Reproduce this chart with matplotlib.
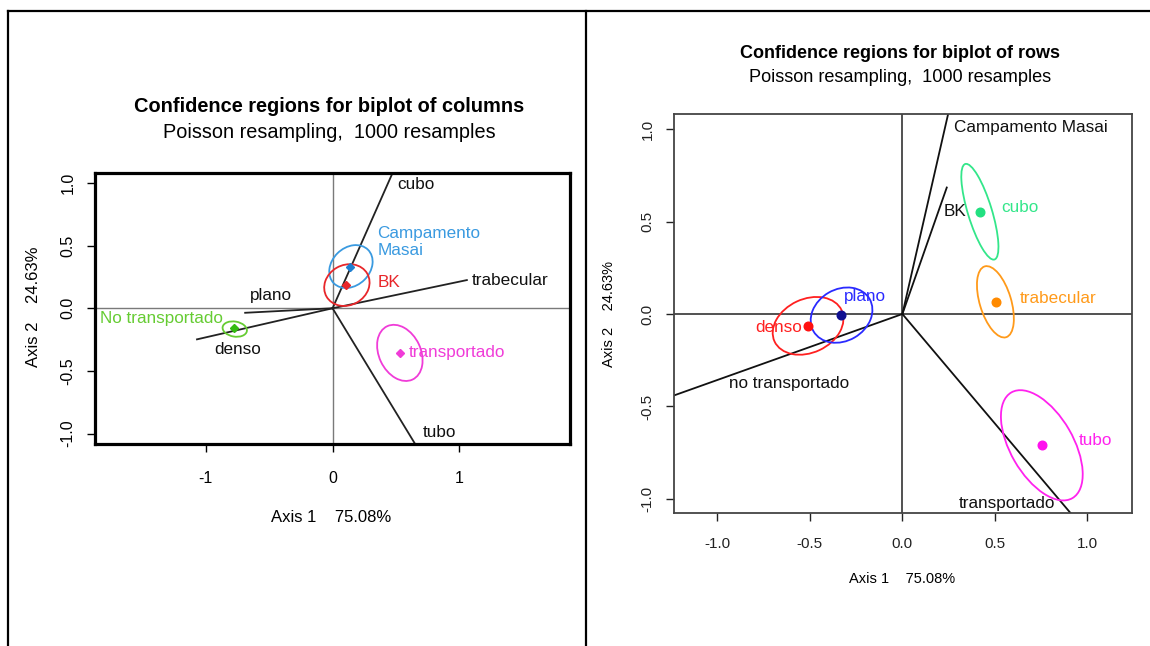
import matplotlib
matplotlib.use('Agg')
import matplotlib.pyplot as plt
from matplotlib.patches import Ellipse
from matplotlib.lines import Line2D

# ================= DATA =================
# Left panel: biplot of columns
L_vec_names = ['cubo', 'trabecular', 'tubo', 'plano', 'denso']
L_vec_x = [0.50, 1.06, 0.68, -0.69, -1.07]
L_vec_y = [1.14, 0.225, -1.13, -0.036, -0.248]

L_pt_names = ['Campamento\nMasai', 'BK', 'No transportado', 'transportado']
L_pt_x = [0.137, 0.107, -0.777, 0.531]
L_pt_y = [0.330, 0.186, -0.157, -0.356]
L_ell_cx = [0.145, 0.113, -0.772, 0.531]
L_ell_cy = [0.333, 0.185, -0.166, -0.356]
L_ell_a = [0.19, 0.185, 0.097, 0.235]
L_ell_b = [0.15, 0.16, 0.06, 0.165]
L_ell_ang = [45, 30, -10, -65]

L_xticks = [-1, 0, 1]
L_yticks = [-1.0, -0.5, 0.0, 0.5, 1.0]

# Right panel: biplot of rows
R_vec_names = ['Campamento Masai', 'BK', 'no transportado', 'transportado']
R_vec_x = [0.263, 0.24, -1.30, 0.9715]
R_vec_y = [1.15, 0.684, -0.4635, -1.15]

R_pt_names = ['denso', 'plano', 'cubo', 'trabecular', 'tubo']
R_pt_x = [-0.509, -0.331, 0.421, 0.504, 0.756]
R_pt_y = [-0.063, -0.007, 0.55, 0.066, -0.708]
R_ell_cx = [-0.51, -0.329, 0.419, 0.503, 0.754]
R_ell_cy = [-0.064, -0.006, 0.553, 0.066, -0.71]
R_ell_a = [0.20, 0.175, 0.27, 0.20, 0.33]
R_ell_b = [0.145, 0.14, 0.065, 0.085, 0.17]
R_ell_ang = [25, 30, 107, 106.8, 120]

R_xticks = [-1.0, -0.5, 0.0, 0.5, 1.0]
R_yticks = [-1.0, -0.5, 0.0, 0.5, 1.0]

title_L = 'Confidence regions for biplot of columns'
title_R = 'Confidence regions for biplot of rows'
subtitle = 'Poisson resampling,  1000 resamples'
xlab = 'Axis 1    75.08%'
ylab = 'Axis 2    24.63%'

# ================= STYLE / LAYOUT =================
W, H, DPI = 1150, 646, 100
plt.rcParams['font.family'] = ['Liberation Sans', 'DejaVu Sans']

L_colors = ['#3a9ae0', '#e8262a', '#66cc33', '#f03cd8']
L_ptcolors = ['#1f7fd0', '#e8262a', '#33bb11', '#f03cd8']
R_colors = ['#ff2020', '#2a2aff', '#33e68a', '#ff9a1a', '#ff22ee']
R_ptcolors = ['#ff1010', '#101090', '#22e080', '#ff8a00', '#ff11ee']

L_lbl = {
    'cubo': (0.51, 0.99, 'left'),
    'trabecular': (1.096, 0.225, 'left'),
    'tubo': (0.71, -0.99, 'left'),
    'plano': (-0.49, 0.105, 'center'),
    'denso': (-0.753, -0.33, 'center'),
    'Campamento\nMasai': (0.352, 0.53, 'left'),
    'BK': (0.352, 0.206, 'left'),
    'No transportado': (-0.866, -0.085, 'right'),
    'transportado': (0.60, -0.356, 'left'),
}
R_lbl = {
    'Campamento Masai': (0.279, 1.007, 'left'),
    'BK': (0.221, 0.553, 'left'),
    'no transportado': (-0.613, -0.374, 'center'),
    'transportado': (0.565, -1.024, 'center'),
    'denso': (-0.545, -0.074, 'right'),
    'plano': (-0.316, 0.097, 'left'),
    'cubo': (0.533, 0.577, 'left'),
    'trabecular': (0.635, 0.085, 'left'),
    'tubo': (0.956, -0.685, 'left'),
}


def px_axes(fig, l, r, t, b):
    return fig.add_axes([l / W, (H - b) / H, (r - l) / W, (b - t) / H])


fig = plt.figure(figsize=(W / DPI, H / DPI), dpi=DPI)
fig.patch.set_facecolor('white')

# outer table frame
for (x0, y0, x1, y1) in [(8, 11, 1150, 11), (8, 11, 8, 646), (586, 11, 586, 646)]:
    fig.add_artist(Line2D([x0 / W, x1 / W], [1 - y0 / H, 1 - y1 / H],
                          transform=fig.transFigure, color='black', lw=1.6))

# ---------- Left panel ----------
axL = px_axes(fig, 95, 569.5, 173.3, 444)
axL.set_xlim(-1.875, 1.87)
axL.set_ylim(-1.083, 1.077)
axL.axhline(0, color='#7a7a7a', lw=1.0, zorder=1)
axL.axvline(0, color='#7a7a7a', lw=1.0, zorder=1)
for n, x, y in zip(L_vec_names, L_vec_x, L_vec_y):
    axL.plot([0, x], [0, y], color='#222222', lw=1.3, zorder=2)
    lx, ly, ha = L_lbl[n]
    axL.text(lx, ly, n, ha=ha, va='center', fontsize=12.3, color='#111111', zorder=5)
for i, n in enumerate(L_pt_names):
    axL.add_patch(Ellipse((L_ell_cx[i], L_ell_cy[i]), 2 * L_ell_a[i], 2 * L_ell_b[i],
                          angle=L_ell_ang[i], fill=False, ec=L_colors[i], lw=1.3, zorder=3))
    axL.plot([L_pt_x[i]], [L_pt_y[i]], marker='D', ms=3.6, color=L_ptcolors[i],
             mec=L_ptcolors[i], ls='none', zorder=4)
    lx, ly, ha = L_lbl[n]
    axL.text(lx, ly, n, ha=ha, va='center', fontsize=12.3, color=L_colors[i],
             linespacing=1.15, zorder=5)
axL.set_xticks(L_xticks)
axL.set_xticklabels(['-1', '0', '1'])
axL.set_yticks(L_yticks)
axL.set_yticklabels(['-1.0', '-0.5', '0.0', '0.5', '1.0'], rotation=90, va='center')
axL.tick_params(direction='out', length=6, width=1, labelsize=11.5, colors='black')
axL.tick_params(axis='x', pad=13.5)
axL.tick_params(axis='y', pad=8)
for s in axL.spines.values():
    s.set_linewidth(2.3)
    s.set_color('black')

fig.text(329 / W, 1 - 106 / H, title_L, ha='center', va='center',
         fontsize=14.4, fontweight='bold')
fig.text(329 / W, 1 - 132 / H, subtitle, ha='center', va='center', fontsize=14.3)
fig.text(331 / W, 1 - 518 / H, xlab, ha='center', va='center', fontsize=12)
fig.text(33 / W, 1 - 307 / H, ylab, ha='center', va='center', fontsize=12, rotation=90)

# ---------- Right panel ----------
axR = px_axes(fig, 674, 1131.7, 114.1, 513)
axR.set_xlim(-1.235, 1.240)
axR.set_ylim(-1.076, 1.081)
axR.axhline(0, color='#333333', lw=1.2, zorder=1)
axR.axvline(0, color='#333333', lw=1.2, zorder=1)
for n, x, y in zip(R_vec_names, R_vec_x, R_vec_y):
    axR.plot([0, x], [0, y], color='#111111', lw=1.3, zorder=2)
    lx, ly, ha = R_lbl[n]
    axR.text(lx, ly, n, ha=ha, va='center', fontsize=12.3, color='#111111', zorder=5)
for i, n in enumerate(R_pt_names):
    axR.add_patch(Ellipse((R_ell_cx[i], R_ell_cy[i]), 2 * R_ell_a[i], 2 * R_ell_b[i],
                          angle=R_ell_ang[i], fill=False, ec=R_colors[i], lw=1.3, zorder=3))
    axR.plot([R_pt_x[i]], [R_pt_y[i]], marker='o', ms=6.2, color=R_ptcolors[i],
             mec=R_ptcolors[i], ls='none', zorder=4)
    lx, ly, ha = R_lbl[n]
    axR.text(lx, ly, n, ha=ha, va='center', fontsize=12.3, color=R_colors[i], zorder=5)
axR.set_xticks(R_xticks)
axR.set_xticklabels(['-1.0', '-0.5', '0.0', '0.5', '1.0'])
axR.set_yticks(R_yticks)
axR.set_yticklabels(['-1.0', '-0.5', '0.0', '0.5', '1.0'], rotation=90, va='center')
axR.tick_params(direction='out', length=6, width=1, labelsize=11, colors='#222222')
axR.tick_params(axis='x', pad=11.5)
axR.tick_params(axis='y', pad=8)
for s in axR.spines.values():
    s.set_linewidth(1.3)
    s.set_color('#444444')

fig.text(900 / W, 1 - 54 / H, title_R, ha='center', va='center',
         fontsize=13, fontweight='bold')
fig.text(900 / W, 1 - 77 / H, subtitle, ha='center', va='center', fontsize=13.1)
fig.text(902 / W, 1 - 579 / H, xlab, ha='center', va='center', fontsize=10.5)
fig.text(609.4 / W, 1 - 314 / H, ylab, ha='center', va='center', fontsize=10.5,
         rotation=90)

fig.savefig('out.png', dpi=DPI, facecolor='white')
